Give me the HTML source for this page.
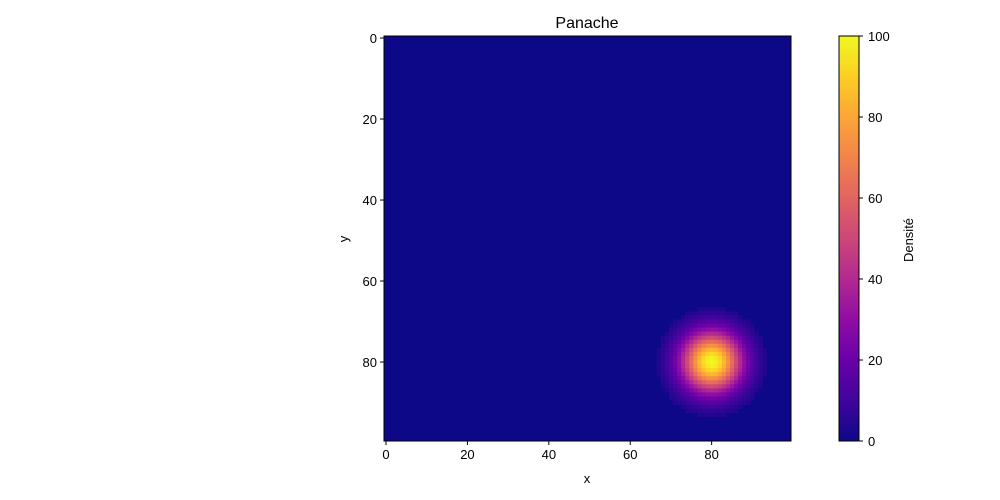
<!DOCTYPE html>
<html><head><meta charset="utf-8"><style>
body{margin:0;background:#fff;}
svg{display:block;font-family:"Liberation Sans","DejaVu Sans",sans-serif;}
</style></head><body>
<svg id="chart" width="1000" height="500" viewBox="0 0 1000 500" xmlns="http://www.w3.org/2000/svg">
<text x="587" y="28" font-size="16" text-anchor="middle">Panache</text>
<g id="plot"></g>
<g id="axes"></g>
<text x="587" y="483" font-size="13" text-anchor="middle">x</text>
<text x="348" y="239" font-size="13" text-anchor="middle" transform="rotate(-90 348 239)">y</text>
<defs><linearGradient id="plasma" x1="0" y1="1" x2="0" y2="0"></linearGradient></defs>
<g id="cbar"></g>
<text x="913" y="240" font-size="13" text-anchor="middle" transform="rotate(-90 913 240)">Densité</text>
</svg>
<script>
const gridSize = [100, 100];
const sourceCenter = [80, 80];
const amplitude = [100];
const sigma = [5.2];
const cutoffRadius = [13.6];
const xTicks = [0, 20, 40, 60, 80];
const yTicks = [0, 20, 40, 60, 80];
const cbarTicks = [0, 20, 40, 60, 80, 100];
const plasmaStops = ['#0d0887','#41049d','#6a00a8','#8f0da4','#b12a90','#cc4778','#e16462','#f2844b','#fca636','#fcce25','#f0f921'];

const NS='http://www.w3.org/2000/svg';
const L=384,R=791,T=36,B=441;
const sx=v=>L+(v+0.5)*(R-L)/gridSize[0];
const sy=v=>T+(v+0.5)*(B-T)/gridSize[1];
function hex(h){return [1,3,5].map(i=>parseInt(h.substr(i,2),16));}
function cmap(t){t=Math.max(0,Math.min(1,t));const n=plasmaStops.length-1;const i=Math.min(n-1,Math.floor(t*n));const f=t*n-i;const a=hex(plasmaStops[i]),b=hex(plasmaStops[i+1]);return 'rgb('+a.map((c,k)=>Math.round(c+(b[k]-c)*f)).join(',')+')';}
function mk(tag,attrs,parent){const e=document.createElementNS(NS,tag);for(const k in attrs)e.setAttribute(k,attrs[k]);parent.appendChild(e);return e;}

const plot=document.getElementById('plot');
const bg=mk('rect',{x:L,y:T,width:R-L,height:B-T,fill:cmap(0)},plot);


const cw=(R-L)/gridSize[0],ch=(B-T)/gridSize[1];
for(let j=0;j<gridSize[1];j++)for(let i=0;i<gridSize[0];i++){
  const dx=i-sourceCenter[0],dy=j-sourceCenter[1];const r2=dx*dx+dy*dy;
  if(Math.sqrt(r2)>cutoffRadius[0])continue;
  const v=amplitude[0]*Math.exp(-r2/(2*sigma[0]*sigma[0]));
  const c=mk('rect',{x:sx(i)-cw/2,y:sy(j)-ch/2,width:cw+0.4,height:ch+0.4,fill:cmap(Math.max(v,4)/100)},plot);
  
  
}
const axes=document.getElementById('axes');
const fr=mk('rect',{x:L,y:T,width:R-L,height:B-T,fill:'none',stroke:'#000','stroke-width':1},axes);


xTicks.forEach(t=>{const x=sx(t);
  const ln=mk('line',{x1:x,x2:x,y1:B,y2:B+4,stroke:'#000'},axes);
  
  
  const tx=mk('text',{x:x,y:B+18,'font-size':13,'text-anchor':'middle'},axes);tx.textContent=t;
  
  });
yTicks.forEach(t=>{const y=sy(t);
  const ln=mk('line',{x1:L-4,x2:L,y1:y,y2:y,stroke:'#000'},axes);
  
  
  const tx=mk('text',{x:L-7,y:y+5,'font-size':13,'text-anchor':'end'},axes);tx.textContent=t;
  
  });
// colorbar
const grad=document.getElementById('plasma');
plasmaStops.forEach((c,i)=>mk('stop',{offset:(i/(plasmaStops.length-1)),'stop-color':c},grad));
const cb=document.getElementById('cbar');const CL=839,CR=859;
const cr=mk('rect',{x:CL,y:T,width:CR-CL,height:B-T,fill:'url(#plasma)',stroke:'#000','stroke-width':1},cb);


cbarTicks.forEach(t=>{const y=B-(t/100)*(B-T);
  const ln=mk('line',{x1:CR,x2:CR+4,y1:y,y2:y,stroke:'#000'},cb);
  
  
  const tx=mk('text',{x:CR+9,y:y+5,'font-size':13},cb);tx.textContent=t;
  
  });
</script>
</body></html>
